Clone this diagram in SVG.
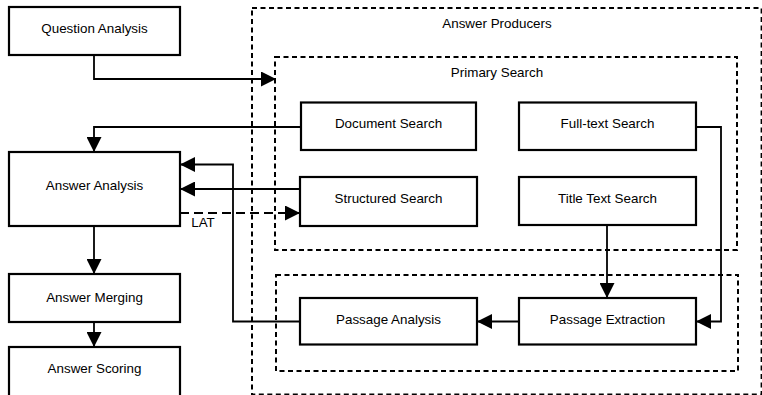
<svg xmlns="http://www.w3.org/2000/svg" width="762" height="395" viewBox="0 0 762 395">
<style>
text{font-family:"Liberation Sans",Arial,sans-serif;font-size:13.4px;fill:#000;text-anchor:middle}
.box{fill:#fff;stroke:#000;stroke-width:2.2}
.grp{fill:none;stroke:#000;stroke-width:2;stroke-dasharray:5 3.5}
.c{fill:none;stroke:#000;stroke-width:1.8}
.d{stroke-dasharray:9 5}
</style>
<defs>
<marker id="ah" markerUnits="userSpaceOnUse" markerWidth="15" markerHeight="15" refX="14" refY="7" orient="auto" viewBox="0 0 14 14">
<path d="M0,0 L14,7 L0,14 z" fill="#000"/>
</marker>
</defs>
<rect width="762" height="395" fill="#fff"/>
<g id="answer-producers">
<rect class="grp" x="252" y="8" width="509.6" height="386.6"/>
<text x="497" y="28.3">Answer Producers</text>
</g>
<g id="primary-search">
<rect class="grp" x="275" y="57" width="462" height="193"/>
<text x="497" y="77">Primary Search</text>
</g>
<g id="passage-group">
<rect class="grp" x="276" y="275" width="462" height="96"/>
</g>
<g id="connectors">
<path class="c" d="M94,55 V79 H276" marker-end="url(#ah)"/>
<path class="c" d="M301,127 H94 V152" marker-end="url(#ah)"/>
<path class="c" d="M300,189 H180" marker-end="url(#ah)"/>
<path class="c" d="M300,321.5 H233 V164.5 H180" marker-end="url(#ah)"/>
<path class="c d" d="M180,213 H300" marker-end="url(#ah)"/>
<path class="c" d="M94,226 V274" marker-end="url(#ah)"/>
<path class="c" d="M94,322 V347" marker-end="url(#ah)"/>
<path class="c" d="M607,225 V298" marker-end="url(#ah)"/>
<path class="c" d="M696,127 H721 V321.5 H696" marker-end="url(#ah)"/>
<path class="c" d="M519,321.5 H477" marker-end="url(#ah)"/>
<text x="203" y="227.3">LAT</text>
</g>
<g id="question-analysis">
<rect class="box" x="9" y="7" width="171" height="48"/>
<text x="94.5" y="32.5">Question Analysis</text>
</g>
<g id="answer-analysis">
<rect class="box" x="9" y="152" width="171" height="74"/>
<text x="94.5" y="189.5">Answer Analysis</text>
</g>
<g id="answer-merging">
<rect class="box" x="9" y="274" width="171" height="48"/>
<text x="94.5" y="301.5">Answer Merging</text>
</g>
<g id="answer-scoring">
<rect class="box" x="9" y="347" width="171" height="50"/>
<text x="94.5" y="372.5">Answer Scoring</text>
</g>
<g id="document-search">
<rect class="box" x="301" y="102.5" width="175" height="47.5"/>
<text x="388.5" y="128">Document Search</text>
</g>
<g id="full-text-search">
<rect class="box" x="519" y="102.5" width="177" height="47.5"/>
<text x="607.5" y="128">Full-text Search</text>
</g>
<g id="structured-search">
<rect class="box" x="300" y="177" width="177" height="49"/>
<text x="388.5" y="202.5">Structured Search</text>
</g>
<g id="title-text-search">
<rect class="box" x="519" y="177" width="177" height="48"/>
<text x="607.5" y="202.5">Title Text Search</text>
</g>
<g id="passage-analysis">
<rect class="box" x="300" y="298" width="177" height="46.5"/>
<text x="388.5" y="324">Passage Analysis</text>
</g>
<g id="passage-extraction">
<rect class="box" x="519" y="298" width="177" height="46.5"/>
<text x="607.5" y="324">Passage Extraction</text>
</g>
</svg>
